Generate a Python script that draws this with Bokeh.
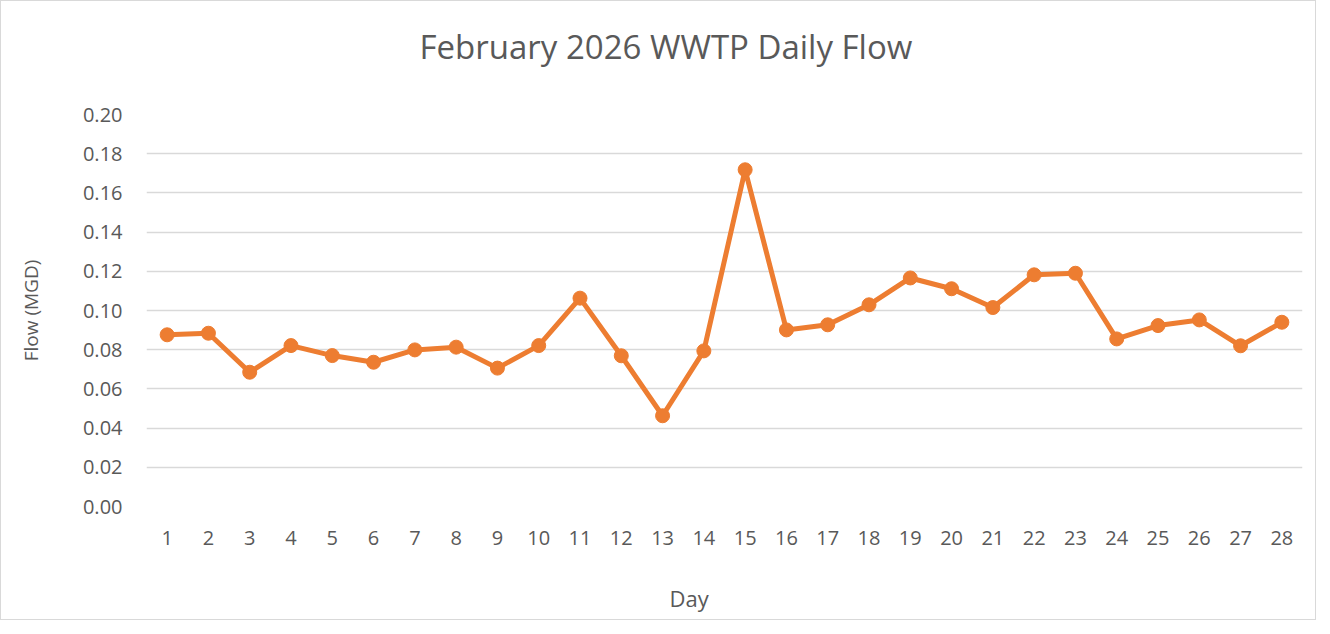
from bokeh.plotting import figure
from bokeh.models import ColumnDataSource, FixedTicker, PrintfTickFormatter, Range1d, Title
from bokeh.embed import file_html
from bokeh.resources import INLINE

days = list(range(1, 29))
flow = [0.0876, 0.0884, 0.0685, 0.0821, 0.0770, 0.0736, 0.0799, 0.0813, 0.0706, 0.0821,
        0.1063, 0.0769, 0.0463, 0.0794, 0.1718, 0.0901, 0.0927, 0.1029, 0.1166, 0.1111,
        0.1015, 0.1182, 0.1190, 0.0855, 0.0923, 0.0952, 0.0820, 0.0940]
y_ticks = [0.00, 0.02, 0.04, 0.06, 0.08, 0.10, 0.12, 0.14, 0.16, 0.18, 0.20]

title_text = "February 2026 WWTP Daily Flow"
x_title = "Day"
y_title = "Flow (MGD)"

FONT = "Open Sans"
TXT = "#595959"
ORANGE = "#ED7D31"
GRID = "#D9D9D9"


def spacer(px):
    # a blank title used only to reserve vertical space in a side panel
    return Title(text=" ", text_font=FONT, text_font_size="2px", standoff=px)


src = ColumnDataSource(dict(day=days, flow=flow))

p = figure(frame_width=1156, frame_height=392, output_backend="svg", toolbar_location=None,
           x_range=Range1d(0.5, 28.5), y_range=Range1d(0, 0.20),
           min_border_left=145, min_border_right=13, min_border_top=113, min_border_bottom=113)
p.outline_line_color = None
p.background_fill_color = "white"
p.border_fill_color = "white"
p.title.text = ""

xax = p.xaxis[0]
yax = p.yaxis[0]

p.line("day", "flow", source=src, line_color=ORANGE, line_width=5, line_join="round")
p.scatter("day", "flow", source=src, size=14, fill_color=ORANGE, line_color=ORANGE)

p.xgrid.grid_line_color = None
p.ygrid.grid_line_color = GRID
p.ygrid.grid_line_width = 1.5
p.ygrid.ticker = FixedTicker(ticks=y_ticks)

for ax in (xax, yax):
    ax.axis_line_color = None
    ax.major_tick_line_color = None
    ax.minor_tick_line_color = None
    ax.major_tick_out = 0
    ax.major_tick_in = 0
    ax.minor_tick_out = 0
    ax.minor_tick_in = 0
    ax.major_label_text_font = FONT
    ax.major_label_text_font_size = "20px"
    ax.major_label_text_color = TXT
    ax.axis_label_text_font = FONT
    ax.axis_label_text_font_size = "19px"
    ax.axis_label_text_color = TXT
    ax.axis_label_text_font_style = "normal"

xax.ticker = FixedTicker(ticks=days)
xax.major_label_standoff = 24
yax.ticker = FixedTicker(ticks=y_ticks)
yax.formatter = PrintfTickFormatter(format="%.2f")
yax.major_label_standoff = 24
yax.axis_label = y_title
yax.axis_label_standoff = 36

# above: spacer nearest the frame, then the chart title
p.add_layout(spacer(39), "above")
p.add_layout(Title(text=title_text, text_font=FONT, text_font_size="33px", text_font_style="normal",
                   text_color=TXT, align="left", offset=273, standoff=4), "above")

# below: x axis, spacer, then the axis title
p.add_layout(spacer(27), "below")
p.add_layout(Title(text=x_title, text_font=FONT, text_font_size="22px", text_font_style="normal",
                   text_color=TXT, align="left", offset=523, standoff=2), "below")

p.styles = {"border": "1px solid #D9D9D9"}

open("out.html", "w").write(file_html(p, INLINE))
